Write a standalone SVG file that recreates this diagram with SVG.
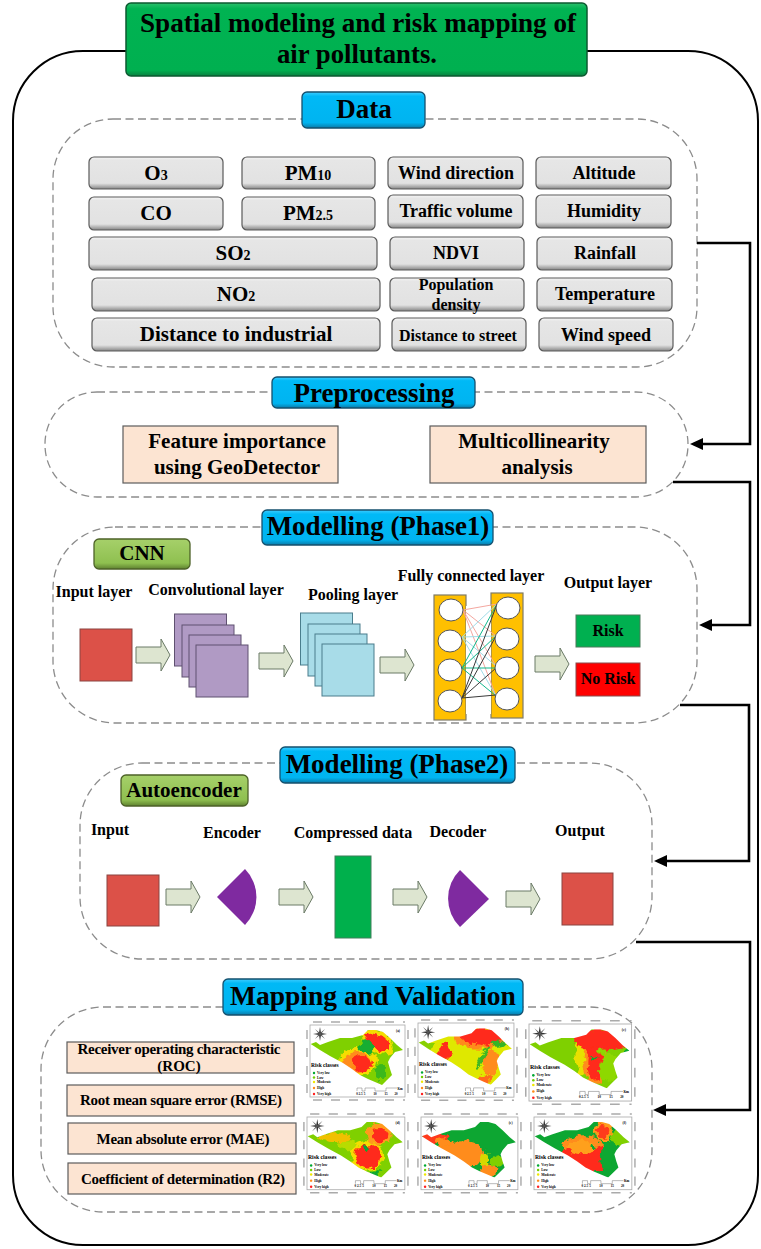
<svg xmlns="http://www.w3.org/2000/svg" xmlns:xlink="http://www.w3.org/1999/xlink" width="761" height="1249" viewBox="0 0 761 1249">
<style>
text{font-family:"Liberation Serif","Times New Roman",serif;font-weight:bold;fill:#000;text-anchor:middle}
.dash{fill:#fff;stroke:#8c8c8c;stroke-width:1.3;stroke-dasharray:8 4.5}
.blue{fill:url(#gBlue);stroke:#14506e;stroke-width:1.3}
.gray{fill:url(#gGray);stroke:#5a5a5a;stroke-width:1.2}
.olive{fill:url(#gOlive);stroke:#4d6228;stroke-width:1.3}
.peach{fill:#fce4d2;stroke:#5c5c5c;stroke-width:1.2}
.h{font-size:27px}
.c18{font-size:18px}
.c21{font-size:21px}
.c16{font-size:16px}
.c15{font-size:15px}
.sub{font-size:14px}
.red{fill:#dc5148;stroke:#8a4540;stroke-width:1}
.pur{fill:#b09ac4;stroke:#5f5170;stroke-width:1}
.cy{fill:#a8dce8;stroke:#4a7d8c;stroke-width:1}
.blk{fill:#dde5d0;stroke:#6a7a66;stroke-width:1}
.col{fill:#ffc000;stroke:#7f7b66;stroke-width:1.2}
.cir{fill:#fff;stroke:#555;stroke-width:1}
.sec{fill:#7f2aa0}
.con{fill:none;stroke:#000;stroke-width:2.6}
.n{stroke-width:1;fill:none}
.mt{font-size:3.4px;text-anchor:start}
.mh{font-size:5.5px;text-anchor:start}
.ms{font-size:3.2px}
.tick{stroke:#aaa;stroke-width:1.4;stroke-dasharray:9 9;fill:none}
</style>
<defs>
<linearGradient id="gGray" x1="0" y1="0" x2="0" y2="1"><stop offset="0" stop-color="#f6f6f6"/><stop offset=".1" stop-color="#e6e6e6"/><stop offset=".82" stop-color="#e2e2e2"/><stop offset="1" stop-color="#858585"/></linearGradient>
<linearGradient id="gBlue" x1="0" y1="0" x2="0" y2="1"><stop offset="0" stop-color="#40ccff"/><stop offset=".12" stop-color="#00b9f6"/><stop offset=".85" stop-color="#00b4f0"/><stop offset="1" stop-color="#0a7aa8"/></linearGradient>
<linearGradient id="gGreen" x1="0" y1="0" x2="0" y2="1"><stop offset="0" stop-color="#2cc06c"/><stop offset=".08" stop-color="#00b352"/><stop offset=".92" stop-color="#00b050"/><stop offset="1" stop-color="#0a8040"/></linearGradient>
<linearGradient id="gOlive" x1="0" y1="0" x2="0" y2="1"><stop offset="0" stop-color="#a6d06a"/><stop offset=".8" stop-color="#8fc050"/><stop offset="1" stop-color="#5f8230"/></linearGradient>
<marker id="ah" markerUnits="userSpaceOnUse" markerWidth="16" markerHeight="14" refX="7" refY="6" orient="auto"><path d="M0 0L13 6L0 12Z" fill="#000"/></marker>
<polygon id="ba" class="blk" points="0,-8 25,-8 25,-16 34,0 25,16 25,8 0,8"/>
<path id="sil" d="M.7 19L6 17L10 20L18 17L30 13L42 13L53 10L58 5L66 5L73 7L80 13L87 20L93 25L85 27L80 33L78 37L80 44L82 50L77 55L72 60L65 57L58 54L50 50L42 44L33 38L20 31L10 25Z"/>
<clipPath id="cs"><use href="#sil"/></clipPath>
<filter id="bl" x="-15%" y="-15%" width="130%" height="130%"><feTurbulence type="fractalNoise" baseFrequency=".14" numOctaves="3" seed="4" result="t"/><feDisplacementMap in="SourceGraphic" in2="t" scale="9" xChannelSelector="R" yChannelSelector="G"/><feGaussianBlur stdDeviation=".45"/></filter>
<g id="mb">
<rect x="0" y="0" width="95" height="72" fill="#fff" stroke="#aaa" stroke-width=".8"/>
<path class="tick" d="M3 -3H95M3 75H95M-3 5V70M98 5V70"/>
<path d="M10 2L11 8L17 9L11 10L10 16L9 10L3 9L9 8Z" fill="#333"/>
<path d="M5 4L11 9L15 14L9 9Z" fill="#555"/>
<path d="M15 4L9 9L5 14L11 9Z" fill="#555"/>
<text x="1" y="42" class="mh">Risk classes</text>
<circle cx="4" cy="48" r="1.2" fill="#00a832"/>
<circle cx="4" cy="52.500" r="1.2" fill="#70d000"/>
<circle cx="4" cy="57" r="1.2" fill="#f0e800"/>
<circle cx="4" cy="63" r="1.2" fill="#ff8c1a"/>
<circle cx="4" cy="69" r="1.2" fill="#ff2020"/>
<text x="7" y="49" class="mt">Very low</text>
<text x="7" y="53.500" class="mt">Low</text>
<text x="7" y="58" class="mt">Moderate</text>
<text x="7" y="64" class="mt">High</text>
<text x="7" y="70" class="mt">Very high</text>
<path d="M47 66V63H52V66H55V63H65V66H76V63H87" fill="none" stroke="#777" stroke-width=".5"/>
<text x="47" y="69.500" class="ms">0</text><text x="50.500" y="69.500" class="ms">2.5</text><text x="54.500" y="69.500" class="ms">5</text><text x="65" y="69.500" class="ms">10</text><text x="76" y="69.500" class="ms">15</text><text x="86" y="69.500" class="ms">20</text><text x="90" y="64.500" class="ms">Km</text>
</g>
</defs>
<rect width="761" height="1249" fill="#fff"/>
<g id="outer-frame"><rect x="13" y="51" width="745" height="1194" rx="70" fill="#fff" stroke="#000" stroke-width="2"/></g>

<g id="section-boxes">
<rect id="data-box" class="dash" x="53" y="119" width="644" height="248" rx="60"/>
<rect id="prep-box" class="dash" x="45" y="392" width="643" height="105" rx="52"/>
<rect id="m1-box" class="dash" x="53" y="527" width="644" height="196" rx="62"/>
<rect id="m2-box" class="dash" x="80" y="763" width="572" height="196" rx="62"/>
<rect id="map-box" class="dash" x="41" y="1007" width="611" height="205" rx="62"/>
</g>

<g id="connectors">
<path class="con" d="M697 243H750V444H696" marker-end="url(#ah)"/>
<path class="con" d="M673 482H750V625H705" marker-end="url(#ah)"/>
<path class="con" d="M680 705H749V861H660" marker-end="url(#ah)"/>
<path class="con" d="M636 942H750V1110H659" marker-end="url(#ah)"/>
</g>

<g id="title"><rect x="126" y="3" width="461" height="73" rx="5" fill="url(#gGreen)" stroke="#0b5a30" stroke-width="1.5"/><text x="358" y="32" font-size="27" textLength="436" lengthAdjust="spacingAndGlyphs">Spatial modeling and risk mapping of</text><text x="357" y="63" font-size="27" textLength="160" lengthAdjust="spacingAndGlyphs">air pollutants.</text></g>

<g id="data"><rect class="blue" x="302" y="92" width="123" height="36" rx="5"/><text class="h" x="364" y="118">Data</text></g>

<g id="o3"><rect class="gray" x="89" y="157" width="134" height="32" rx="5"/><text class="c21" x="156" y="180">O<tspan class="sub">3</tspan></text></g>
<g id="pm10"><rect class="gray" x="242" y="157" width="133" height="32" rx="5"/><text class="c21" x="308" y="180">PM<tspan class="sub">10</tspan></text></g>
<g id="wind-direction"><rect class="gray" x="388" y="157" width="135" height="32" rx="5"/><text class="c18" x="456" y="179">Wind direction</text></g>
<g id="altitude"><rect class="gray" x="536" y="157" width="135" height="32" rx="5"/><text class="c18" x="604" y="179">Altitude</text></g>
<g id="co"><rect class="gray" x="89" y="197" width="134" height="33" rx="5"/><text class="c21" x="156" y="220">CO</text></g>
<g id="pm25"><rect class="gray" x="242" y="197" width="133" height="33" rx="5"/><text class="c21" x="308" y="220">PM<tspan class="sub">2.5</tspan></text></g>
<g id="traffic-volume"><rect class="gray" x="388" y="195" width="135" height="33" rx="5"/><text class="c18" x="456" y="217">Traffic volume</text></g>
<g id="humidity"><rect class="gray" x="536" y="195" width="135" height="33" rx="5"/><text class="c18" x="604" y="217">Humidity</text></g>
<g id="so2"><rect class="gray" x="89" y="237" width="288" height="33" rx="5"/><text class="c21" x="233" y="260">SO<tspan class="sub">2</tspan></text></g>
<g id="ndvi"><rect class="gray" x="390" y="237" width="134" height="33" rx="5"/><text class="c18" x="456" y="259">NDVI</text></g>
<g id="rainfall"><rect class="gray" x="537" y="237" width="135" height="33" rx="5"/><text class="c18" x="605" y="259">Rainfall</text></g>
<g id="no2"><rect class="gray" x="92" y="278" width="288" height="33" rx="5"/><text class="c21" x="236" y="301">NO<tspan class="sub">2</tspan></text></g>
<g id="population-density"><rect class="gray" x="390" y="278" width="134" height="33" rx="5"/><text class="c16" x="456" y="290">Population</text><text class="c16" x="456" y="310">density</text></g>
<g id="temperature"><rect class="gray" x="537" y="278" width="135" height="33" rx="5"/><text class="c18" x="605" y="300">Temperature</text></g>
<g id="distance-industrial"><rect class="gray" x="92" y="318" width="288" height="33" rx="5"/><text class="c21" x="236" y="341">Distance to industrial</text></g>
<g id="distance-street"><rect class="gray" x="392" y="318" width="134" height="33" rx="5"/><text class="c16" x="458" y="341">Distance to street</text></g>
<g id="wind-speed"><rect class="gray" x="539" y="318" width="134" height="33" rx="5"/><text class="c18" x="606" y="341">Wind speed</text></g>

<g id="preprocessing"><rect class="blue" x="272" y="377" width="203" height="31" rx="5"/><text class="h" x="374" y="402">Preprocessing</text></g>
<g id="feature-importance"><rect class="peach" x="123" y="426" width="215" height="57"/><text class="c21" x="237" y="448">Feature importance</text><text class="c21" x="237" y="474">using GeoDetector</text></g>
<g id="multicollinearity"><rect class="peach" x="430" y="426" width="216" height="57"/><text class="c21" x="534" y="448">Multicollinearity</text><text class="c21" x="537" y="474">analysis</text></g>

<g id="modelling-1"><rect class="blue" x="262" y="510" width="231" height="35" rx="5"/><text class="h" x="378" y="535">Modelling (Phase1)</text></g>
<g id="cnn"><rect class="olive" x="94" y="539" width="96" height="30" rx="5"/><text class="c21" x="142" y="560">CNN</text></g>
<g id="input-layer"><text class="c16" x="94" y="597">Input layer</text><rect class="red" x="80" y="629" width="52" height="52"/></g>
<g id="convolutional-layer"><text class="c16" x="216" y="595">Convolutional layer</text>
<rect class="pur" x="174.500" y="614" width="52" height="52"/><rect class="pur" x="182" y="625" width="52" height="52"/><rect class="pur" x="189" y="635" width="52" height="52"/><rect class="pur" x="196" y="645" width="52" height="52"/></g>
<g id="pooling-layer"><text class="c16" x="353" y="600">Pooling layer</text>
<rect class="cy" x="300.500" y="613" width="52" height="52"/><rect class="cy" x="308" y="624" width="52" height="52"/><rect class="cy" x="315" y="634" width="52" height="52"/><rect class="cy" x="322" y="644" width="52" height="52"/></g>
<g id="fully-connected-layer"><text class="c16" x="471" y="581">Fully connected layer</text>
<rect class="col" x="434" y="595" width="32" height="125"/><rect class="col" x="491" y="593" width="32" height="125"/>
<path d="M466 606H491V714H466Z" fill="#fff"/>
<g class="n" stroke="#f4a7a0"><path d="M463 610L497 604M463 610L496 636M463 610L496 666M463 610L496 696"/></g>
<g class="n" stroke="#a0dce8"><path d="M462 637L497 604M462 637L496 636M462 637L496 666M462 637L496 696"/></g>
<g class="n" stroke="#10b88c"><path d="M462 668L497 604M462 668L496 636M462 668L496 668M462 668L496 696"/></g>
<g class="n" stroke="#3a3a3a"><path d="M462 698L497 604M462 698L496 636M462 698L496 668M462 698L496 695"/></g>
<ellipse class="cir" cx="451" cy="610" rx="12" ry="11"/><ellipse class="cir" cx="450" cy="641" rx="12" ry="11"/><ellipse class="cir" cx="450" cy="670" rx="12" ry="11"/><ellipse class="cir" cx="450" cy="701" rx="12" ry="11"/>
<ellipse class="cir" cx="508" cy="608" rx="12" ry="11"/><ellipse class="cir" cx="507" cy="639" rx="12" ry="11"/><ellipse class="cir" cx="507" cy="668" rx="12" ry="11"/><ellipse class="cir" cx="507" cy="699" rx="12" ry="11"/></g>
<g id="output-layer"><text class="c16" x="608" y="588">Output layer</text></g>
<g id="risk"><rect x="576" y="615" width="64" height="32" fill="#00b050" stroke="#4a7a5a"/><text class="c16" x="608" y="636">Risk</text></g>
<g id="no-risk"><rect x="576" y="663" width="64" height="33" fill="#ff0000" stroke="#8a4a4a"/><text class="c16" x="608" y="684">No Risk</text></g>
<g id="m1-arrows"><use href="#ba" transform="translate(136 655)"/><use href="#ba" transform="translate(259 661)"/><use href="#ba" transform="translate(380 665)"/><use href="#ba" transform="translate(535 664)"/></g>

<g id="modelling-2"><rect class="blue" x="280" y="747" width="235" height="36" rx="5"/><text class="h" x="397" y="773">Modelling (Phase2)</text></g>
<g id="autoencoder"><rect class="olive" x="121" y="775" width="127" height="31" rx="5"/><text class="c21" x="184" y="797">Autoencoder</text></g>
<g id="ae-input"><text class="c16" x="110" y="835">Input</text><rect class="red" x="107" y="875" width="52" height="51"/></g>
<g id="ae-encoder"><text class="c16" x="232" y="838">Encoder</text><path class="sec" d="M217 897L245 869A40 40 0 0 1 245 925Z"/></g>
<g id="ae-compressed"><text class="c16" x="353" y="838">Compressed data</text><rect x="335" y="856" width="36" height="82" fill="#00b04c" stroke="#3f7f5a"/></g>
<g id="ae-decoder"><text class="c16" x="458" y="837">Decoder</text><path class="sec" d="M489 899L460 870A40 40 0 0 0 460 927Z"/></g>
<g id="ae-output"><text class="c16" x="580" y="836">Output</text><rect class="red" x="562" y="873" width="51" height="52"/></g>
<g id="m2-arrows"><use href="#ba" transform="translate(166 897)"/><use href="#ba" transform="translate(279 897)"/><use href="#ba" transform="translate(393 897)"/><use href="#ba" transform="translate(506 899)"/></g>

<g id="mapping"><rect class="blue" x="223" y="979" width="300" height="36" rx="5"/><text x="373" y="1005" font-size="27.500">Mapping and Validation</text></g>
<g id="roc"><rect class="peach" x="67" y="1042" width="227" height="31"/><text class="c15" x="179" y="1054" textLength="203" lengthAdjust="spacing">Receiver operating characteristic</text><text class="c15" x="179" y="1071">(ROC)</text></g>
<g id="rmse"><rect class="peach" x="67" y="1085" width="227" height="31"/><text class="c15" x="181" y="1105" textLength="202" lengthAdjust="spacing">Root mean square error (RMSE)</text></g>
<g id="mae"><rect class="peach" x="68" y="1123" width="228" height="31"/><text class="c15" x="183" y="1144" textLength="173" lengthAdjust="spacing">Mean absolute error (MAE)</text></g>
<g id="r2"><rect class="peach" x="68" y="1163" width="228" height="31"/><text class="c15" x="183" y="1184" textLength="204" lengthAdjust="spacing">Coefficient of determination (R2)</text></g>

<g id="maps">
<g id="map-a" transform="translate(310 1025)"><use href="#mb"/><text x="86" y="7" class="mt">(a)</text>
<g clip-path="url(#cs)"><g filter="url(#bl)"><rect x="-12" y="-12" width="120" height="96" fill="#7fd000"/>
<ellipse cx="68" cy="17" rx="17" ry="11" fill="#f5dd00" transform="rotate(30 68 17)"/><ellipse cx="68" cy="17" rx="14" ry="7.500" fill="#ff2a1a" transform="rotate(30 68 17)"/>
<ellipse cx="47" cy="37" rx="19" ry="14" fill="#f5dd00"/><ellipse cx="48" cy="37" rx="15" ry="10" fill="#ff8c1a"/><ellipse cx="52" cy="38" rx="11" ry="8" fill="#ff2a1a"/><ellipse cx="57" cy="22" rx="8" ry="6" fill="#12ad30"/><ellipse cx="70" cy="47" rx="5" ry="8" fill="#3bb81a"/></g></g></g>

<g id="map-b" transform="translate(418 1023) scale(1.01 1.03)"><use href="#mb"/><text x="86" y="7" class="mt">(b)</text>
<g clip-path="url(#cs)"><g filter="url(#bl)"><rect x="-12" y="-12" width="120" height="96" fill="#dfe800"/>
<ellipse cx="8" cy="21" rx="10" ry="5" fill="#88d000"/><ellipse cx="62" cy="15" rx="26" ry="10" fill="#ff8c1a"/><ellipse cx="63" cy="13" rx="22" ry="8" fill="#ff2a1a"/><ellipse cx="27" cy="27" rx="7" ry="8" fill="#ff2a1a"/><ellipse cx="72" cy="38" rx="8" ry="13" fill="#ff8c1a"/><ellipse cx="64" cy="33" rx="2" ry="14" fill="#40b820" transform="rotate(25 64 33)"/><ellipse cx="80" cy="20" rx="7" ry="3" fill="#35b525"/><ellipse cx="66" cy="56" rx="5" ry="6" fill="#ff6a1a"/></g></g></g>

<g id="map-c" transform="translate(529 1024) scale(1.08 1.07)"><use href="#mb"/><text x="86" y="7" class="mt">(c)</text>
<g clip-path="url(#cs)"><g filter="url(#bl)"><rect x="-12" y="-12" width="120" height="96" fill="#7fd000"/>
<ellipse cx="48" cy="30" rx="5" ry="17" fill="#e8e000"/><ellipse cx="62" cy="36" rx="12" ry="20" fill="#ff8c1a"/><ellipse cx="67" cy="15" rx="26" ry="10" fill="#ff2a1a"/><ellipse cx="61" cy="36" rx="7" ry="16" fill="#ff2a1a"/><ellipse cx="74" cy="42" rx="9" ry="14" fill="#8ed800"/><circle cx="60" cy="31" r="2.200" fill="#10a830"/><circle cx="91" cy="25" r="2.500" fill="#10a830"/><circle cx="68" cy="26" r="4" fill="#8ed800"/></g></g></g>

<g id="map-d" transform="translate(307 1117) scale(1.03 1.01)"><use href="#mb"/><text x="86" y="7" class="mt">(d)</text>
<g clip-path="url(#cs)"><g filter="url(#bl)"><rect x="-12" y="-12" width="120" height="96" fill="#7fd000"/>
<ellipse cx="26" cy="20" rx="16" ry="5" fill="#f0c000"/><ellipse cx="58" cy="38" rx="16" ry="15" fill="#f5dd00"/><ellipse cx="59" cy="39" rx="12" ry="12" fill="#ff2a1a"/><ellipse cx="70" cy="17" rx="13" ry="11" fill="#ff9a1a"/><ellipse cx="71" cy="18" rx="8" ry="7" fill="#ff2a1a"/><circle cx="58" cy="31" r="3" fill="#10a830"/><circle cx="66" cy="57" r="4" fill="#10a830"/><ellipse cx="40" cy="28" rx="9" ry="5" fill="#b8dc00"/></g></g></g>

<g id="map-e" transform="translate(421 1117) scale(1.02 1.01)"><use href="#mb"/><text x="86" y="7" class="mt">(e)</text>
<g clip-path="url(#cs)"><g filter="url(#bl)"><rect x="-12" y="-12" width="120" height="96" fill="#0aa630"/>
<ellipse cx="76" cy="43" rx="8" ry="6" fill="#80d000"/><ellipse cx="39" cy="36" rx="24" ry="13" fill="#ff8c1a"/><ellipse cx="13" cy="21" rx="13" ry="7" fill="#ff3a1a"/><ellipse cx="22" cy="25" rx="9" ry="4" fill="#ff8c1a"/><ellipse cx="66" cy="53" rx="7" ry="8" fill="#ff8c1a"/><ellipse cx="62" cy="42" rx="4" ry="6" fill="#d8d800"/></g></g></g>

<g id="map-f" transform="translate(534 1117) scale(1.03 1.01)"><use href="#mb"/><text x="86" y="7" class="mt">(f)</text>
<g clip-path="url(#cs)"><g filter="url(#bl)"><rect x="-12" y="-12" width="120" height="96" fill="#0aa630"/>
<ellipse cx="86" cy="20" rx="12" ry="8" fill="#80d000"/><ellipse cx="47" cy="30" rx="20" ry="11" fill="#ff8c1a"/><ellipse cx="49" cy="41" rx="26" ry="14" fill="#ff2a1a"/><ellipse cx="46" cy="30" rx="14" ry="7" fill="#ffa01a"/><ellipse cx="67" cy="14" rx="9" ry="10" fill="#ff9a1a"/><ellipse cx="67" cy="14" rx="6" ry="7" fill="#ff3a1a"/><ellipse cx="70" cy="38" rx="6" ry="14" fill="#10a830"/><circle cx="58" cy="29" r="2" fill="#10a830"/></g></g></g>
</g>
</svg>
